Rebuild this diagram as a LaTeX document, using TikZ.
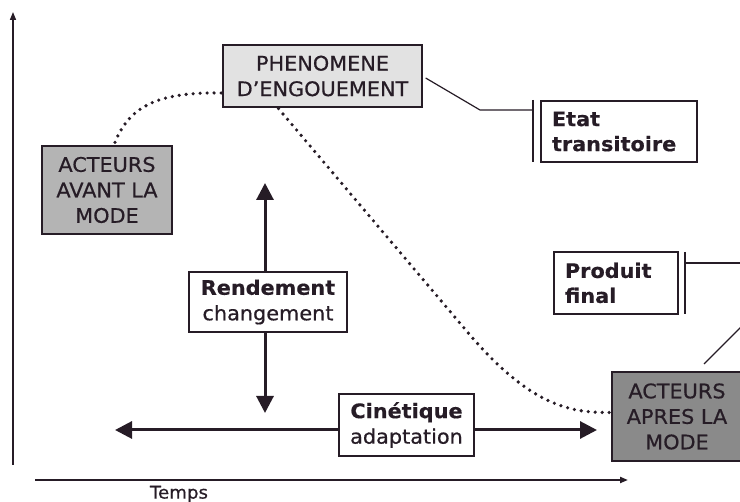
\documentclass[tikz,border=0pt]{standalone}
\usepackage{fontspec}
\setmainfont{DejaVu Sans}[FakeStretch=1.04, FakeBold=0.6, BoldFeatures={FakeBold=0.4}]
\usetikzlibrary{arrows.meta}
\definecolor{ink}{HTML}{261C26}
\definecolor{lightfill}{HTML}{E2E2E2}
\definecolor{midfill}{HTML}{B4B4B4}
\definecolor{darkfill}{HTML}{8A8A8A}
\tikzset{
  box/.style={draw=ink, line width=1.3pt, inner sep=0pt, align=center, text=ink,
    font=\fontsize{20}{25.5}\selectfont},
  lbox/.style={draw=ink, line width=1.3pt, inner xsep=11pt, inner ysep=0pt, align=left, text=ink,
    font=\fontsize{20}{25}\selectfont\bfseries},
  bigarrow/.style={draw=ink, line width=3pt, -{Triangle[length=17pt,width=17pt]}},
  axis/.style={draw=ink, -{Triangle[length=8pt,width=6pt]}},
  dotline/.style={draw=ink, line width=3.6pt, line cap=round, dash pattern=on 0pt off 7pt},
  thin/.style={draw=ink, line width=1.2pt},
}
\begin{document}
\begin{tikzpicture}[x=1pt,y=-1pt]
\useasboundingbox (0,0) rectangle (740,502);
% axes
\coordinate (y0) at (13,465);
\coordinate (y1) at (13,12);
\coordinate (x0) at (35,480);
\coordinate (x1) at (628,480);
\draw[axis, line width=1.5pt] (y0) -- (y1);
\draw[axis, line width=2pt] (x0) -- (x1);
\node[text=ink, font=\fontsize{17.5}{18}\selectfont] (temps) at (179,494) {Temps};

% boxes
\node[box, fill=midfill, minimum width=130pt, minimum height=88pt] (avant) at (107,190) {ACTEURS\\AVANT LA\\MODE};
\node[box, fill=lightfill, minimum width=199pt, minimum height=62pt] (phen) at (322.5,76) {PHENOMENE\\D’ENGOUEMENT};
\node[box, fill=darkfill, minimum width=130pt, minimum height=89pt] (apres) at (677,416.5) {ACTEURS\\APRES LA\\MODE};
\node[lbox, text width=134pt, minimum height=61pt] (etat) at (619,131.5) {Etat\\transitoire};
\node[lbox, text width=102pt, minimum height=62pt] (prod) at (616,283) {Produit\\final};
\node[box, fill=white, minimum width=158pt, minimum height=60pt] (rend) at (268,302) {\textbf{Rendement}\\changement};
\node[box, fill=white, minimum width=135pt, minimum height=62pt] (cin) at (406.5,425) {\textbf{Cinétique}\\adaptation};

% big arrows
\coordinate (rt) at (265,183);
\coordinate (rb) at (265,413);
\coordinate (cl) at (115,430);
\coordinate (cr) at (597,430);
\draw[bigarrow] (rend.north -| rt) -- (rt);
\draw[bigarrow] (rend.south -| rb) -- (rb);
\draw[bigarrow] (cin.west |- cl) -- (cl);
\draw[bigarrow] (cin.east |- cr) -- (cr);

% etat bracket
\coordinate (eb) at (480,110);
\coordinate (ebt) at (533,100);
\coordinate (ebb) at (533,162);
\draw[thin] ([xshift=3pt,yshift=-2pt]phen.east) -- (eb) -- (eb -| ebt);
\draw[thin] (ebt) -- (ebb);

% produit bracket
\coordinate (pbt) at (685,252);
\coordinate (pbb) at (685,314);
\coordinate (pr) at (745,263);
\coordinate (pd0) at (704,364);
\coordinate (pd1) at (746,322);
\draw[thin] (pbt) -- (pbb);
\draw[thin] (pr -| pbt) -- (pr);
\draw[thin] (pd0) -- (pd1);

% dotted curves
\draw[dotline] ([xshift=8pt,yshift=3pt]avant.north) .. controls (130,105) and (160,92) .. ([xshift=-1pt,yshift=-17pt]phen.west);
\draw[dotline] ([xshift=-44pt,yshift=-1pt]phen.south) -- (470,335) .. controls (530,405) and (570,413) .. ([xshift=-2pt,yshift=4pt]apres.west);
\end{tikzpicture}
\end{document}
